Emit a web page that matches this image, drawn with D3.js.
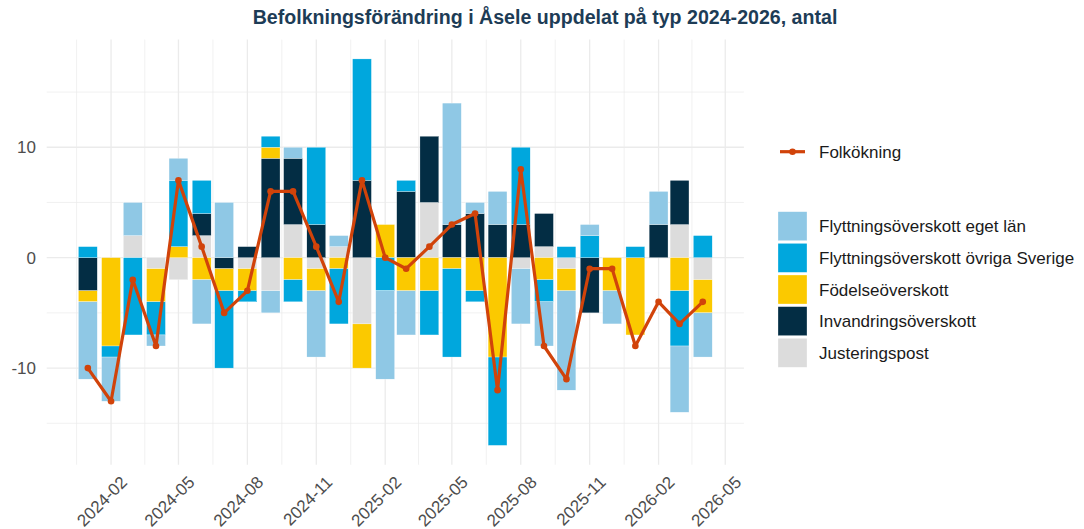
<!DOCTYPE html>
<html>
<head>
<meta charset="utf-8">
<script src="https://cdn.jsdelivr.net/npm/d3@7"></script>
<style>
  html, body { margin: 0; padding: 0; background: #ffffff; }
  svg { display: block; font-family: "Liberation Sans", Arial, sans-serif; }
</style>
</head>
<body>
<svg id="chart" width="1084" height="529"></svg>
<script>
// ---- Data ----
const months = ["2024-01","2024-02","2024-03","2024-04","2024-05","2024-06","2024-07","2024-08","2024-09","2024-10","2024-11","2024-12",
                "2025-01","2025-02","2025-03","2025-04","2025-05","2025-06","2025-07","2025-08","2025-09","2025-10","2025-11","2025-12",
                "2026-01","2026-02","2026-03","2026-04"];
const seriesNames = ["Flyttningsöverskott eget län","Flyttningsöverskott övriga Sverige","Födelseöverskott","Invandringsöverskott","Justeringspost"];
const egetLan    = [-7,-4, 3,-1, 2,-4, 5, 0,-2, 1,-6, 1,  0,-8,-4, 0,11, 1, 3,-5,-4,-9, 1,-3,  0, 3,-6,-4];
const ovrigaSv   = [ 1,-1,-7,-3, 6, 3,-7,-1, 1,-2, 7,-5, 11,-3, 1,-4,-8,-1,-8, 7,-2, 1, 2, 0,  1, 0,-5, 2];
const fodelse    = [-1,-8, 0,-3, 1,-2,-2,-2, 1,-2,-2,-1, -4, 3,-3,-3,-1,-3,-9, 0,-2,-2, 0,-3, -7, 0,-3,-3];
const invandring = [-3, 0, 0, 0, 0, 2,-1, 1, 9, 6, 3, 0,  7, 0, 6, 6, 3, 4, 3, 3, 3, 0,-5, 0,  0, 3, 4, 0];
const justering  = [ 0, 0, 2,-1,-2, 2, 0,-1,-3, 3,-1, 1, -6, 0, 0, 5, 0, 0, 0,-1, 1,-1, 0, 0,  0, 0, 3,-2];
const folkokning = [-10,-13,-2,-8, 7, 1,-5,-3, 6, 6, 1,-4,  7, 0,-1, 1, 3, 4,-12, 8,-8,-11,-1,-1, -8,-4,-6,-4];
const yTicks = [-10, 0, 10];
const yMinor = [-15, -5, 5, 15];
const xTickLabels = ["2024-02","2024-05","2024-08","2024-11","2025-02","2025-05","2025-08","2025-11","2026-02","2026-05"];
const title = "Befolkningsförändring i Åsele uppdelat på typ 2024-2026, antal";
const lineName = "Folkökning";

// ---- Styles ----
const colors = ["#8fc8e5", "#00a7dd", "#fbc900", "#032d44", "#dcdcdc"];
const lineColor = "#d1430a";
const gridColor = "#ebebeb";
const textColor = "#4d4d4d";
const titleColor = "#1d3c56";

const seriesValues = [egetLan, ovrigaSv, fodelse, invandring, justering];
const parse = d3.utcParse("%Y-%m");
const dates = months.map(parse);
const DAY = 86400000;
const barWidthDays = 25.2;

const svg = d3.select("#chart");
const panel = { left: 46.7, right: 743.9, top: 39.6, bottom: 464.7 };

// x scale: data range incl. bar width, expanded 5%
const x0 = +dates[0] - barWidthDays / 2 * DAY;
const x1 = +dates[dates.length - 1] + barWidthDays / 2 * DAY;
const xPad = (x1 - x0) * 0.05;
const x = d3.scaleUtc().domain([new Date(x0 - xPad), new Date(x1 + xPad)]).range([panel.left, panel.right]);

// y scale
const allStackMin = d3.min(months.map((m, i) => d3.sum(seriesValues, s => Math.min(0, s[i]))));
const allStackMax = d3.max(months.map((m, i) => d3.sum(seriesValues, s => Math.max(0, s[i]))));
const yMin = Math.min(allStackMin, d3.min(folkokning));
const yMax = Math.max(allStackMax, d3.max(folkokning));
const yPad = (yMax - yMin) * 0.05;
const y = d3.scaleLinear().domain([yMin - yPad, yMax + yPad]).range([panel.bottom, panel.top]);

// ---- Grid ----
const grid = svg.append("g");
const xMajor = xTickLabels.map(parse);
const xMinorDates = [];
const prevMajor = d3.utcMonth.offset(xMajor[0], -3);
const majorsExt = [prevMajor].concat(xMajor);
for (let i = 0; i < majorsExt.length - 1; i++) {
  xMinorDates.push(new Date((+majorsExt[i] + +majorsExt[i + 1]) / 2));
}
grid.selectAll(".yminor").data(yMinor).join("line")
  .attr("x1", panel.left).attr("x2", panel.right)
  .attr("y1", d => y(d)).attr("y2", d => y(d))
  .attr("stroke", gridColor).attr("stroke-width", 0.7);
grid.selectAll(".xminor").data(xMinorDates.filter(d => x(d) >= panel.left && x(d) <= panel.right)).join("line")
  .attr("x1", d => x(d)).attr("x2", d => x(d))
  .attr("y1", panel.top).attr("y2", panel.bottom)
  .attr("stroke", gridColor).attr("stroke-width", 0.7);
grid.selectAll(".ymajor").data(yTicks).join("line")
  .attr("x1", panel.left).attr("x2", panel.right)
  .attr("y1", d => y(d)).attr("y2", d => y(d))
  .attr("stroke", gridColor).attr("stroke-width", 1.3);
grid.selectAll(".xmajor").data(xMajor).join("line")
  .attr("x1", d => x(d)).attr("x2", d => x(d))
  .attr("y1", panel.top).attr("y2", panel.bottom)
  .attr("stroke", gridColor).attr("stroke-width", 1.3);

// ---- Stacked bars ----
const rects = [];
months.forEach((m, i) => {
  let pos = 0, neg = 0;
  // stack from zero outward: last series first
  for (let k = seriesValues.length - 1; k >= 0; k--) {
    const v = seriesValues[k][i];
    if (v > 0) { rects.push({ d: dates[i], y0: pos, y1: pos + v, k }); pos += v; }
    else if (v < 0) { rects.push({ d: dates[i], y0: neg + v, y1: neg, k }); neg += v; }
  }
});
const bw = x(new Date(+dates[0] + barWidthDays * DAY)) - x(dates[0]);
svg.append("g").selectAll("rect").data(rects).join("rect")
  .attr("x", d => x(d.d) - bw / 2)
  .attr("width", bw)
  .attr("y", d => y(d.y1))
  .attr("height", d => y(d.y0) - y(d.y1))
  .attr("fill", d => colors[d.k])
  .attr("stroke", "#ffffff").attr("stroke-width", 0.3);

// ---- Line ----
const line = d3.line().x((d, i) => x(dates[i])).y(d => y(d));
svg.append("path").datum(folkokning)
  .attr("d", line).attr("fill", "none")
  .attr("stroke", lineColor).attr("stroke-width", 3.2)
  .attr("stroke-linejoin", "round");
svg.append("g").selectAll("circle").data(folkokning).join("circle")
  .attr("cx", (d, i) => x(dates[i])).attr("cy", d => y(d))
  .attr("r", 3.3).attr("fill", lineColor);

// ---- Axes text ----
const fs = 17;
svg.append("g").selectAll("text").data(yTicks).join("text")
  .attr("x", 36).attr("y", d => y(d))
  .attr("dy", "0.36em").attr("text-anchor", "end")
  .attr("font-size", fs).attr("fill", textColor)
  .text(d => String(d));
svg.append("g").selectAll("text").data(xMajor).join("text")
  .attr("transform", d => `translate(${x(d) + 8.5},${panel.bottom + 10}) rotate(-45)`)
  .attr("text-anchor", "end").attr("dy", "0.72em")
  .attr("font-size", fs).attr("fill", textColor)
  .text((d, i) => xTickLabels[i]);

// ---- Title ----
svg.append("text")
  .attr("x", 545).attr("y", 24)
  .attr("text-anchor", "middle")
  .attr("font-size", 19.6).attr("font-weight", "bold")
  .attr("fill", titleColor)
  .text(title);

// ---- Legend ----
const lg = svg.append("g");
const lkx = 778, lkw = 29, ltx = 819;
lg.append("line").attr("x1", lkx + 2).attr("x2", lkx + lkw - 2)
  .attr("y1", 151.7).attr("y2", 151.7)
  .attr("stroke", lineColor).attr("stroke-width", 3.2);
lg.append("circle").attr("cx", lkx + lkw / 2).attr("cy", 151.7).attr("r", 3.3).attr("fill", lineColor);
lg.append("text").attr("x", ltx).attr("y", 151.7).attr("dy", "0.36em")
  .attr("font-size", fs).attr("fill", "#1a1a1a").text(lineName);

const rowTop = 211.7, rowPitch = 31.65;
seriesNames.forEach((name, k) => {
  lg.append("rect").attr("x", lkx).attr("y", rowTop + k * rowPitch)
    .attr("width", lkw).attr("height", lkw)
    .attr("fill", colors[k]).attr("stroke", "#ffffff").attr("stroke-width", 0.3);
  lg.append("text").attr("x", ltx).attr("y", rowTop + k * rowPitch + lkw / 2)
    .attr("dy", "0.36em").attr("font-size", fs).attr("fill", "#1a1a1a").text(name);
});
</script>
</body>
</html>
